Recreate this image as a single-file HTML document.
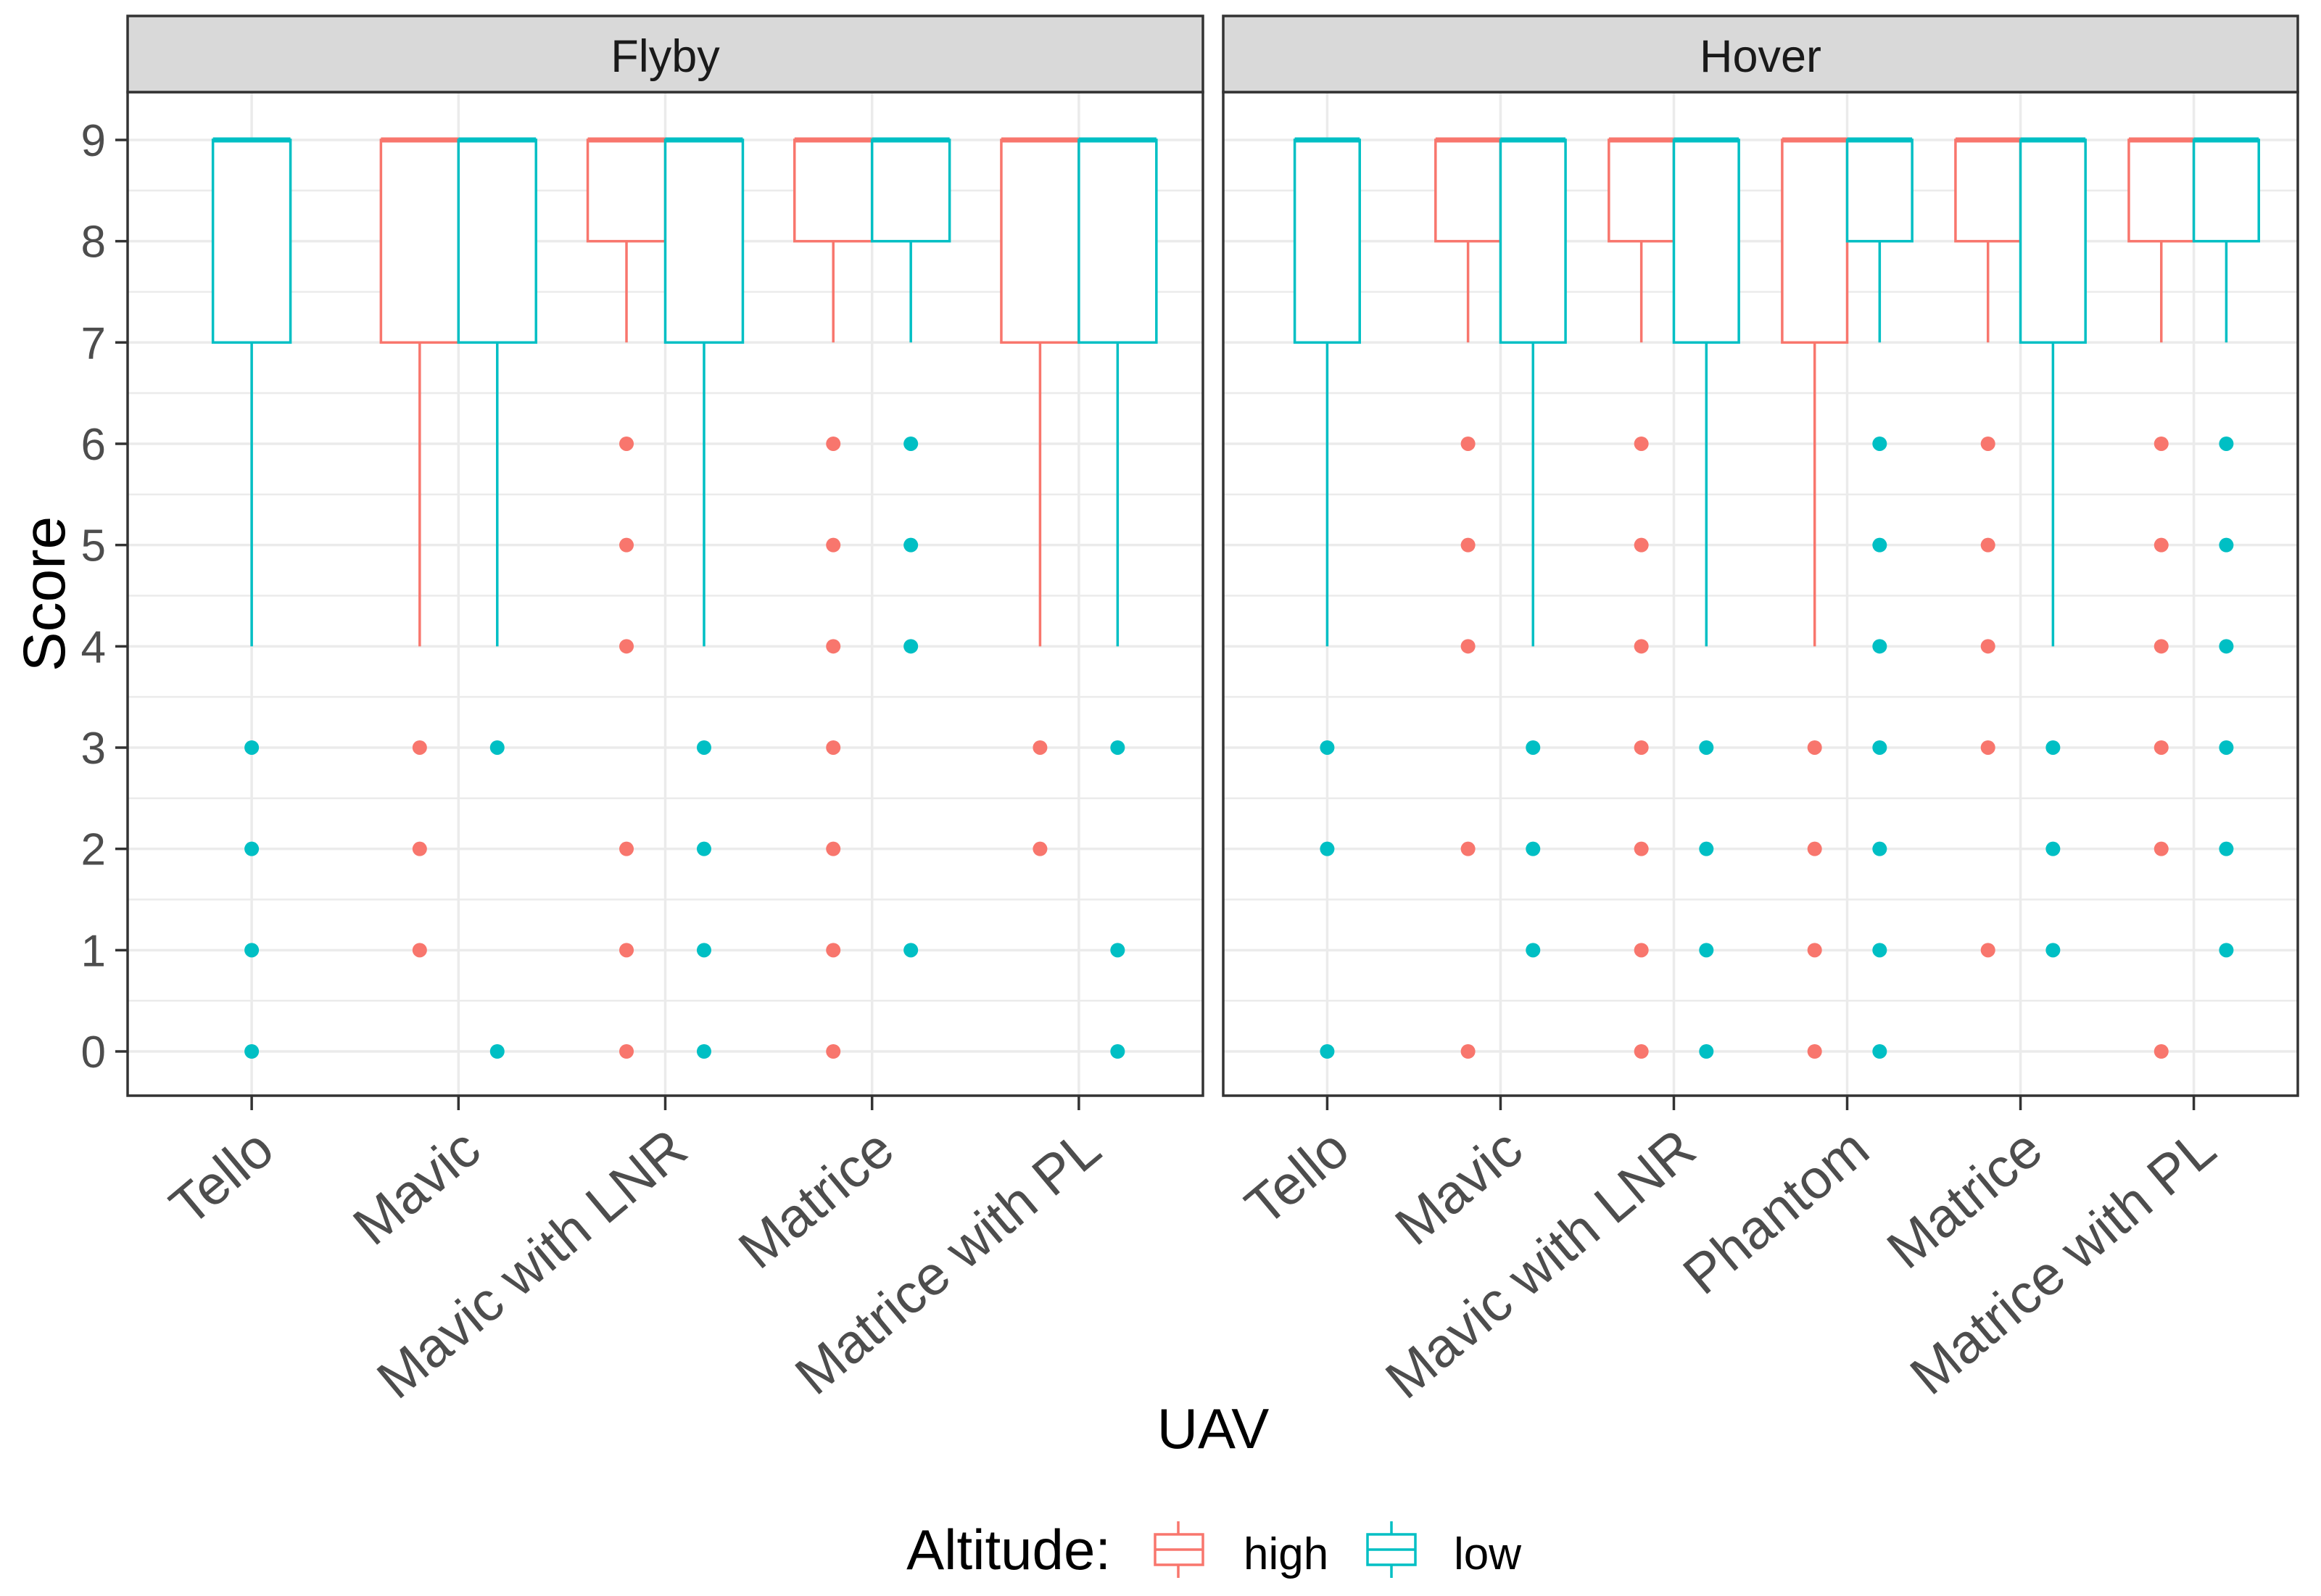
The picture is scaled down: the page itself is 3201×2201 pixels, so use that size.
<!DOCTYPE html>
<html><head><meta charset="utf-8"><style>
html,body{margin:0;padding:0;background:#fff;}
svg{display:block;font-family:"Liberation Sans",Arial,sans-serif;}
</style></head><body>
<svg id="chart" width="3201" height="2201" viewBox="0 0 3201 2201" xmlns="http://www.w3.org/2000/svg">
<rect width="3201" height="2201" fill="#fff"/>
<g id="root"></g>
</svg>
<script>
// ---- data ----
const flybyCategories = ["Tello","Mavic","Mavic with LNR","Matrice","Matrice with PL"];
const hoverCategories = ["Tello","Mavic","Mavic with LNR","Phantom","Matrice","Matrice with PL"];
// stats: [lowerWhisker, q1, median, q3, upperWhisker]; null = no group
const flybyHigh = [null,[4,7,9,9,9],[7,8,9,9,9],[7,8,9,9,9],[4,7,9,9,9]];
const flybyLow  = [[4,7,9,9,9],[4,7,9,9,9],[4,7,9,9,9],[7,8,9,9,9],[4,7,9,9,9]];
const flybyHighOutliers = [[],[3,2,1],[6,5,4,2,1,0],[6,5,4,3,2,1,0],[3,2]];
const flybyLowOutliers  = [[3,2,1,0],[3,0],[3,2,1,0],[6,5,4,1],[3,1,0]];
const hoverHigh = [null,[7,8,9,9,9],[7,8,9,9,9],[4,7,9,9,9],[7,8,9,9,9],[7,8,9,9,9]];
const hoverLow  = [[4,7,9,9,9],[4,7,9,9,9],[4,7,9,9,9],[7,8,9,9,9],[4,7,9,9,9],[7,8,9,9,9]];
const hoverHighOutliers = [[],[6,5,4,2,0],[6,5,4,3,2,1,0],[3,2,1,0],[6,5,4,3,1],[6,5,4,3,2,0]];
const hoverLowOutliers  = [[3,2,0],[3,2,1],[3,2,1,0],[6,5,4,3,2,1,0],[3,2,1],[6,5,4,3,2,1]];
const yTicks = [0,1,2,3,4,5,6,7,8,9];

const NS="http://www.w3.org/2000/svg";
const root=document.getElementById('root');
const HIGH="#F8766D", LOW="#00BFC4";
function mk(tag,attrs,parent){const e=document.createElementNS(NS,tag);for(const k in attrs)e.setAttribute(k,attrs[k]);(parent||root).appendChild(e);return e;}

const PT=127, PB=1511;
const yScale=v=>1450-(v)*139.67;

function panel(name,x0,x1,cats,high,low,hiOut,loOut){
  const g=mk('g',{});
  
  
  const n=cats.length;
  const step=(x1-x0)/(n-1+1.2);
  const xScale=i=>x0+(0.6+i)*step;
  mk('rect',{x:x0,y:PT,width:x1-x0,height:PB-PT,fill:'#fff'},g);
  for(let v=-0.5;v<=9.5;v+=1){const y=yScale(v);if(y>PT&&y<PB)mk('line',{x1:x0,x2:x1,y1:y,y2:y,stroke:'#ebebeb','stroke-width':2.5},g);}
  yTicks.forEach(v=>{const y=yScale(v);mk('line',{x1:x0,x2:x1,y1:y,y2:y,stroke:'#ebebeb','stroke-width':3.5},g);});
  cats.forEach((c,i)=>{mk('line',{x1:xScale(i),x2:xScale(i),y1:PT,y2:PB,stroke:'#ebebeb','stroke-width':3.5},g);});
  const bw=step*0.375;
  function drawBox(stats,outs,cx,color,label){
    if(!stats)return;
    const bg=mk('g',{},g);
    
    
    const [lw,q1,md,q3,uw]=stats;
    mk('line',{x1:cx,x2:cx,y1:yScale(lw),y2:yScale(q1),stroke:color,'stroke-width':3.5},bg);
    mk('line',{x1:cx,x2:cx,y1:yScale(q3),y2:yScale(uw),stroke:color,'stroke-width':3.5},bg);
    mk('rect',{x:cx-bw/2,y:yScale(q3),width:bw,height:yScale(q1)-yScale(q3),fill:'#fff',stroke:color,'stroke-width':3.5},bg);
    mk('line',{x1:cx-bw/2,x2:cx+bw/2,y1:yScale(md),y2:yScale(md),stroke:color,'stroke-width':7},bg);
    outs.forEach(v=>{const d=mk('circle',{cx:cx,cy:yScale(v),r:10,fill:color},bg);
      
      });
  }
  cats.forEach((c,i)=>{
    const cx=xScale(i);
    if(high[i]&&low[i]){
      drawBox(high[i],hiOut[i],cx-bw/2,HIGH,'box-high-'+c.toLowerCase().replace(/ /g,'-'));
      drawBox(low[i],loOut[i],cx+bw/2,LOW,'box-low-'+c.toLowerCase().replace(/ /g,'-'));
    }else if(high[i]){drawBox(high[i],hiOut[i],cx,HIGH,'box-high-'+c.toLowerCase().replace(/ /g,'-'));}
    else if(low[i]){drawBox(low[i],loOut[i],cx,LOW,'box-low-'+c.toLowerCase().replace(/ /g,'-'));}
  });
  mk('rect',{x:x0,y:PT,width:x1-x0,height:PB-PT,fill:'none',stroke:'#333','stroke-width':3.5},g);
  const s=mk('rect',{x:x0,y:22,width:x1-x0,height:PT-22,fill:'#d9d9d9',stroke:'#333','stroke-width':3.5},g);
  
  
  const st=mk('text',{x:(x0+x1)/2,y:99,'text-anchor':'middle','font-size':63,fill:'#1a1a1a'},g);
  st.textContent=name==='flyby'?'Flyby':'Hover';
  
  
  cats.forEach((c,i)=>{
    const x=xScale(i);
    mk('line',{x1:x,x2:x,y1:PB,y2:PB+20,stroke:'#333','stroke-width':3.5},g);
    const ax=x+35, ay=1593;
    const t=mk('text',{x:ax,y:ay,'text-anchor':'end','font-size':76,fill:'#4d4d4d',transform:`rotate(-40 ${ax} ${ay})`},g);
    t.textContent=c;
    
    
  });
}
panel('flyby',176,1659,flybyCategories,flybyHigh,flybyLow,flybyHighOutliers,flybyLowOutliers);
panel('hover',1687,3169,hoverCategories,hoverHigh,hoverLow,hoverHighOutliers,hoverLowOutliers);

yTicks.forEach(v=>{
  const y=yScale(v);
  mk('line',{x1:159,x2:176,y1:y,y2:y,stroke:'#333','stroke-width':3.5});
  const t=mk('text',{x:146,y:y+22,'text-anchor':'end','font-size':62,fill:'#4d4d4d'});
  t.textContent=v;
  
  
});
</script>
<svg style="position:absolute;left:0;top:0" width="3201" height="2201">
<text x="89" y="819" transform="rotate(-90 89 819)" text-anchor="middle" font-size="82" fill="#000" font-family="Liberation Sans, sans-serif">Score</text>
<text x="1673" y="1997" text-anchor="middle" font-size="78" fill="#000" font-family="Liberation Sans, sans-serif">UAV</text>
<g font-family="Liberation Sans, sans-serif">
<text x="1532" y="2164" text-anchor="end" font-size="78" fill="#000">Altitude:</text>
<g>
<line x1="1625" x2="1625" y1="2098" y2="2176" stroke="#F8766D" stroke-width="3.5"/>
<rect x="1593" y="2116" width="66" height="42" fill="#fff" stroke="#F8766D" stroke-width="3.5"/>
<line x1="1593" x2="1659" y1="2137" y2="2137" stroke="#F8766D" stroke-width="3.5"/>
<text x="1715" y="2164" font-size="62" fill="#000">high</text>
</g>
<g>
<line x1="1919" x2="1919" y1="2098" y2="2176" stroke="#00BFC4" stroke-width="3.5"/>
<rect x="1886" y="2116" width="66" height="42" fill="#fff" stroke="#00BFC4" stroke-width="3.5"/>
<line x1="1886" x2="1952" y1="2137" y2="2137" stroke="#00BFC4" stroke-width="3.5"/>
<text x="2005" y="2164" font-size="62" fill="#000">low</text>
</g>
</g>
</svg>
</body></html>
